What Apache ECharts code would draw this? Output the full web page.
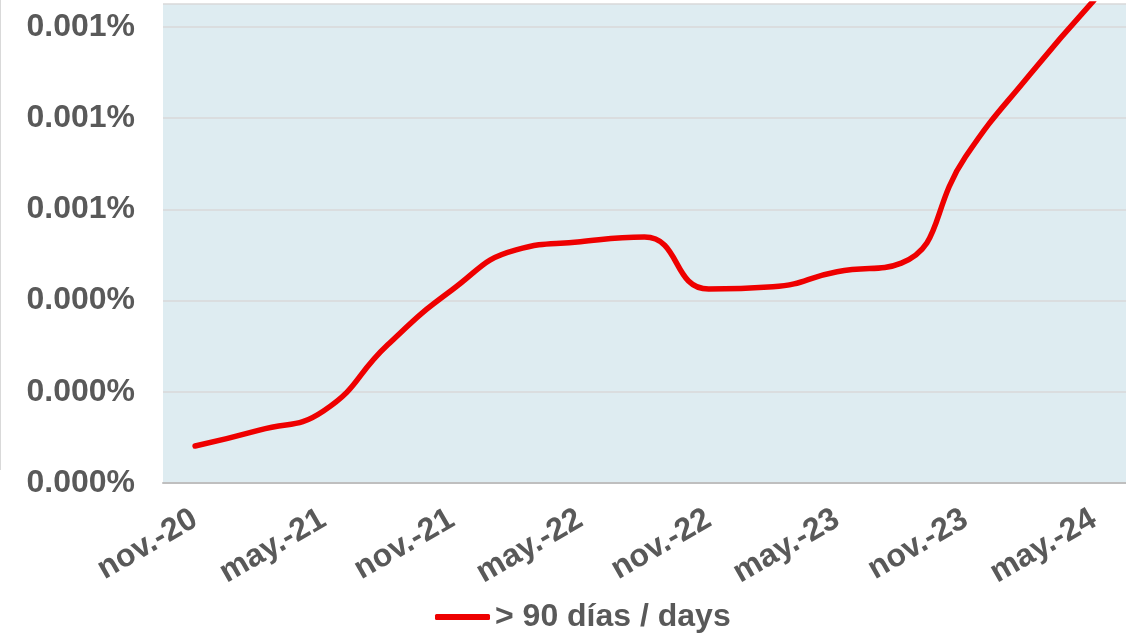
<!DOCTYPE html>
<html>
<head>
<meta charset="utf-8" />
<title>> 90 días / days</title>
<style>
  html, body { margin: 0; padding: 0; background: #fff; }
  #main { width: 1126px; height: 638px; }
</style>
</head>
<body>
<div id="main"></div>
<script src="https://cdn.jsdelivr.net/npm/echarts@6/dist/echarts.min.js"></script>
<script>
// quarterly categories, label shown every other one
var categories = ['nov.-20', 'feb.-21', 'may.-21', 'ago.-21', 'nov.-21', 'feb.-22', 'may.-22', 'ago.-22',
                  'nov.-22', 'feb.-23', 'may.-23', 'ago.-23', 'nov.-23', 'feb.-24', 'may.-24'];
// values in percent
var over90 = [0.000081, 0.000116, 0.000158, 0.000303, 0.000423, 0.000511, 0.000529, 0.000539,
              0.000425, 0.000430, 0.000463, 0.000482, 0.000715, 0.000895, 0.001058];
var seriesName = '> 90 días / days';

var chart = echarts.init(document.getElementById('main'));
var txt = '#595959';
var fontFam = 'Liberation Sans, Arial, sans-serif';

chart.setOption({
  animation: false,
  grid: { left: 163, right: -12, top: 4, bottom: 155, show: true, backgroundColor: '#deecf1', borderWidth: 0 },
  legend: {
    left: 430, top: 596,
    icon: 'roundRect', itemWidth: 55, itemHeight: 6,
    textStyle: { color: txt, fontSize: 32, fontWeight: 'bold', fontFamily: fontFam },
    data: [seriesName]
  },
  xAxis: {
    type: 'category',
    data: categories,
    boundaryGap: true,
    axisLine: { lineStyle: { color: '#bfbfbf', width: 2 } },
    axisTick: { show: false },
    axisLabel: {
      interval: 1, rotate: 30, margin: 34,
      color: txt, fontSize: 32, fontWeight: 'bold', fontFamily: fontFam
    }
  },
  yAxis: {
    type: 'value',
    min: 0, max: 0.00105, interval: 0.0002,
    axisLine: { show: false },
    axisTick: { show: false },
    splitLine: { lineStyle: { color: '#d9d9d9', width: 1.5 } },
    axisLabel: {
      margin: 28, color: txt, fontSize: 32, fontWeight: 'bold', fontFamily: fontFam,
      showMaxLabel: false,
      formatter: function (v) { return v.toFixed(3) + '%'; }
    }
  },
  graphic: [{
    type: 'line', shape: { x1: 0.5, y1: 0, x2: 0.5, y2: 470 },
    style: { stroke: '#d9d9d9', lineWidth: 1 }
  }],
  series: [{
    name: seriesName,
    type: 'line',
    data: over90,
    smooth: 0.5,
    symbol: 'none',
    clip: true,
    itemStyle: { color: '#ee0000' },
    lineStyle: { color: '#ee0000', width: 5.5, cap: 'round', join: 'round' }
  }]
});
</script>
</body>
</html>
